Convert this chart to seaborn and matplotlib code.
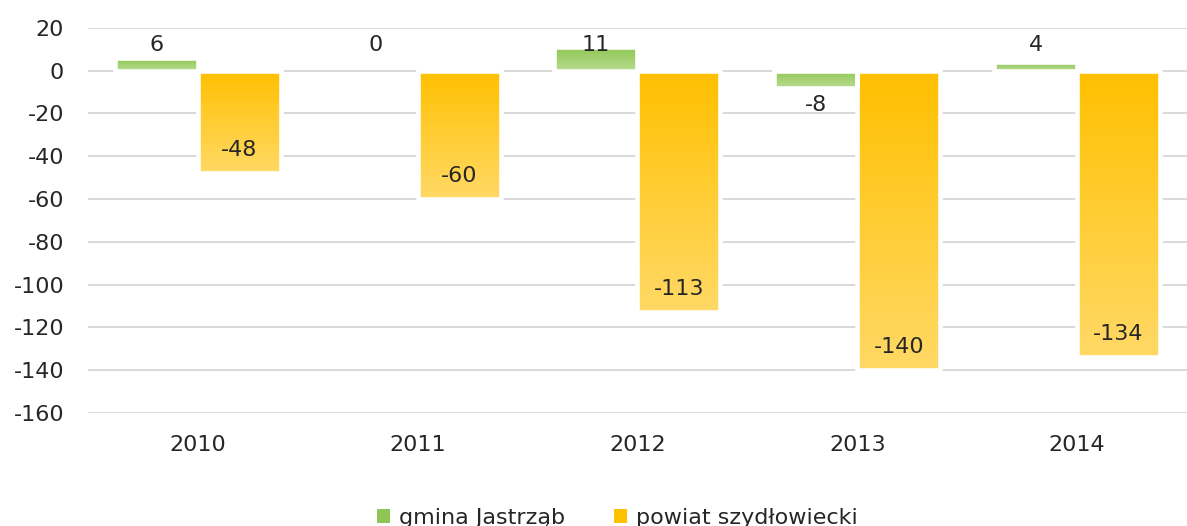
import numpy as np
import pandas as pd
import matplotlib
matplotlib.use('Agg')
import matplotlib.pyplot as plt
import seaborn as sns
from matplotlib.colors import LinearSegmentedColormap
from matplotlib.patches import Patch

years = ['2010', '2011', '2012', '2013', '2014']
gmina = [6, 0, 11, -8, 4]
powiat = [-48, -60, -113, -140, -134]
series = ['gmina Jastrząb', 'powiat szydłowiecki']

# gradient ends (top, bottom) for each series
grad = {
    'gmina Jastrząb': ('#8FC653', '#B9DC92'),
    'powiat szydłowiecki': ('#FFC000', '#FFD966'),
}

df = pd.DataFrame({
    'Rok': years * 2,
    'Wartosc': gmina + powiat,
    'Seria': [series[0]] * len(years) + [series[1]] * len(years),
})

sns.set_style('white')
plt.rcParams['font.family'] = ['DejaVu Sans']
plt.rcParams['axes.unicode_minus'] = False
text_col = '#262626'

fig = plt.figure(figsize=(11.87, 5.26), dpi=100)
ax = fig.add_axes([0.074, 0.215, 0.926, 0.732])

sns.barplot(data=df, x='Rok', y='Wartosc', hue='Seria', hue_order=series,
            palette=[grad[s][0] for s in series], width=0.755,
            edgecolor='white', linewidth=3.3, legend=False, ax=ax)

ax.yaxis.grid(True, color='#D9D9D9', linewidth=1.4)
ax.set_axisbelow(True)
for s in ax.spines.values():
    s.set_visible(False)
ax.set_xlabel('')
ax.set_ylabel('')
ax.tick_params(axis='both', length=0, labelsize=16, colors=text_col)
ax.tick_params(axis='x', pad=16)
ax.tick_params(axis='y', pad=17)

# vertical gradient fill clipped to each bar
for cont, s in zip(ax.containers, series):
    cmap = LinearSegmentedColormap.from_list(s, [grad[s][0], grad[s][1]])
    for p in cont.patches:
        x0, y0 = p.get_x(), p.get_y()
        w, h = p.get_width(), p.get_height()
        lo, hi = min(y0, y0 + h), max(y0, y0 + h)
        if hi - lo == 0:
            p.set_visible(False)
            continue
        img = ax.imshow(np.linspace(0, 1, 256).reshape(-1, 1), cmap=cmap,
                        aspect='auto', extent=(x0, x0 + w, lo, hi),
                        origin='upper', zorder=p.get_zorder() - 0.01,
                        interpolation='bicubic')
        img.set_clip_path(p)
        p.set_facecolor('none')

ax.set_xlim(-0.5, len(years) - 0.5)
ax.set_ylim(-160, 20)
ax.set_yticks(range(-160, 21, 20))

# labels: positive gmina labels share one row above the zero line
for p, v in zip(ax.containers[0].patches, gmina):
    xc = p.get_x() + p.get_width() / 2
    if v >= 0:
        ax.text(xc, 12, str(v), ha='center', va='center', fontsize=16,
                color=text_col)
    else:
        ax.annotate(str(v), (xc, v), xytext=(0, -5), textcoords='offset points',
                    ha='center', va='top', fontsize=16, color=text_col)
ax.bar_label(ax.containers[1], labels=[str(v) for v in powiat], padding=-24,
             fontsize=16, color=text_col)

handles = [Patch(facecolor=grad[s][0], edgecolor='none') for s in series]
fig.legend(handles, series, loc='center', bbox_to_anchor=(0.52, 0.015),
           ncol=2, frameon=False, fontsize=16, handlelength=0.6,
           handleheight=0.6, handletextpad=0.4, columnspacing=2.2,
           labelcolor=text_col)

fig.savefig('out.png', dpi=100)
